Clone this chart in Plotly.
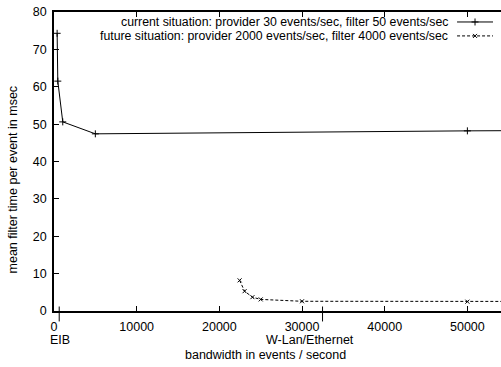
import plotly.graph_objects as go

# measured filter time per event (msec) versus link bandwidth (events/second)
current_bw = [380, 460, 1060, 5000, 50000, 100000]
current_ms = [74.3, 61.5, 50.6, 47.4, 48.2, 48.7]

future_bw = [22450, 23050, 24000, 25000, 30000, 50000, 100000]
future_ms = [8.2, 5.3, 3.7, 3.1, 2.6, 2.5, 2.5]

current_name = "current situation: provider 30 events/sec, filter 50 events/sec"
future_name = "future situation: provider 2000 events/sec, filter 4000 events/sec"

# named bandwidth marks on the x axis
link_bw = [630, 32480]
link_names = ["EIB", "W-Lan/Ethernet"]

x_ticks = [0, 10000, 20000, 30000, 40000, 50000]
y_ticks = [0, 10, 20, 30, 40, 50, 60, 70, 80]

FONT = "Liberation Sans, Arial, Helvetica, sans-serif"
W, H = 501, 367
L, R, T, B = 53.5, 0, 11.5, 55.5
plot_w = W - L - R
plot_h = H - T - B


def px(x):
    """pixel column -> paper x"""
    return (x - L) / plot_w


def py(y):
    """pixel row -> paper y"""
    return (H - B - y) / plot_h


fig = go.Figure()

fig.add_trace(go.Scatter(
    x=current_bw, y=current_ms, mode="lines+markers",
    line=dict(color="black", width=1),
    marker=dict(symbol="cross-thin", size=5, line=dict(color="black", width=1)),
    showlegend=False,
))
fig.add_trace(go.Scatter(
    x=future_bw, y=future_ms, mode="lines+markers",
    line=dict(color="black", width=1, dash="3px,2px"),
    marker=dict(symbol="x-thin", size=4, line=dict(color="black", width=1)),
    showlegend=False,
))

# key drawn gnuplot-style: right-aligned text, sample line to its right
key_rows = [(21.5, current_name, "solid", "cross-thin", 5),
            (35.5, future_name, "3px,2px", "x-thin", 4)]
for yy, name, dash, sym, sz in key_rows:
    fig.add_trace(go.Scatter(
        x=[457, 475, 493], y=[yy, yy, yy], mode="lines",
        line=dict(color="black", width=1, dash=dash),
        xaxis="x2", yaxis="y2", showlegend=False,
    ))
    fig.add_trace(go.Scatter(
        x=[475], y=[yy], mode="markers",
        marker=dict(symbol=sym, size=sz, line=dict(color="black", width=1)),
        xaxis="x2", yaxis="y2", showlegend=False,
    ))
    fig.add_annotation(x=px(449), y=py(yy), xref="paper", yref="paper",
                       text=name, showarrow=False, xanchor="right",
                       yanchor="middle", borderpad=0,
                       font=dict(family=FONT, size=12.3, color="black"))

label_x = [60, 310]
for bw, name, lx in zip(link_bw, link_names, label_x):
    fig.add_shape(type="line", xref="x", yref="paper",
                  x0=bw, x1=bw, y0=py(307), y1=py(322),
                  line=dict(color="black", width=1))
    fig.add_annotation(x=px(lx), y=py(340.5), xref="paper", yref="paper",
                       text=name, showarrow=False, xanchor="center",
                       yanchor="middle",
                       font=dict(family=FONT, size=12.5, color="black"))

fig.add_annotation(x=px(265), y=py(356), xref="paper", yref="paper",
                   text="bandwidth in events / second", showarrow=False,
                   xanchor="center", yanchor="middle",
                   font=dict(family=FONT, size=12.5, color="black"))
fig.add_annotation(x=px(12), y=py(180), xref="paper", yref="paper",
                   text="mean filter time per event in msec", showarrow=False,
                   textangle=-90, xanchor="center", yanchor="middle",
                   font=dict(family=FONT, size=12.5, color="black"))

x_max = plot_w / 8.277 * 1000

fig.update_layout(
    width=W, height=H,
    margin=dict(l=L, r=R, t=T, b=B, pad=0),
    paper_bgcolor="white", plot_bgcolor="white",
    font=dict(family=FONT, size=12, color="black"),
    xaxis=dict(range=[0, x_max], tickvals=x_ticks,
               ticktext=[str(v) for v in x_ticks],
               ticks="inside", ticklen=5, tickwidth=1, tickcolor="black",
               showline=True, linecolor="black", linewidth=1.5,
               mirror="ticks", showgrid=False, zeroline=False,
               tickfont=dict(size=12.5), ticklabelstandoff=3),
    yaxis=dict(range=[0, 80], tickvals=y_ticks,
               ticks="inside", ticklen=5, tickwidth=1, tickcolor="black",
               showline=True, linecolor="black", linewidth=1.5,
               mirror=False, showgrid=False, zeroline=False,
               tickfont=dict(size=12.5), ticklabelstandoff=3),
    xaxis2=dict(overlaying="x", range=[L, W], visible=False, fixedrange=True),
    yaxis2=dict(overlaying="y", range=[H - B, T], visible=False, fixedrange=True),
    showlegend=False,
)

fig.write_html("out.html")
